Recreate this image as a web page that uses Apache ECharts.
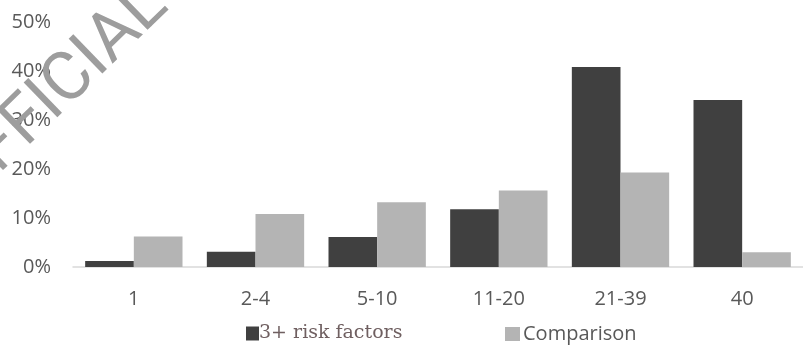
<!DOCTYPE html>
<html>
<head>
<meta charset="utf-8">
<script src="https://cdn.jsdelivr.net/npm/echarts@6/dist/echarts.min.js"></script>
<style>html,body{margin:0;padding:0;background:#fff}#c{width:803px;height:345px}</style>
</head>
<body>
<div id="c"></div>
<script>
const categories = ['1', '2-4', '5-10', '11-20', '21-39', '40'];
const riskFactors = [1.2, 3.1, 6.1, 11.8, 40.8, 34.1];
const comparison = [6.2, 10.8, 13.2, 15.6, 19.3, 3.0];
const seriesNames = ['3+ risk factors', 'Comparison'];
const watermark = 'OFFICIAL';

const chart = echarts.init(document.getElementById('c'), null, {renderer: 'canvas'});
chart.setOption({
  animation: false,
  backgroundColor: '#ffffff',
  grid: {left: 73, right: 0, top: 22, bottom: 78, containLabel: false},
  xAxis: {
    type: 'category',
    data: categories,
    axisLine: {show: true, lineStyle: {color: '#d9d9d9', width: 1.5}},
    axisTick: {show: false},
    axisLabel: {color: '#595959', fontFamily: 'Open Sans', fontSize: 20, margin: 22}
  },
  yAxis: {
    type: 'value',
    min: 0, max: 50, interval: 10,
    axisLine: {show: false},
    axisTick: {show: false},
    splitLine: {show: false},
    axisLabel: {color: '#595959', fontFamily: 'Open Sans', fontSize: 20, margin: 22, formatter: '{value}%'}
  },
  legend: [
    {
      data: [seriesNames[0]], left: 241, top: 319,
      icon: 'rect', itemWidth: 13, itemHeight: 14,
      textStyle: {color: '#6f5f60', fontFamily: 'DejaVu Serif', fontSize: 19, padding: [0, 0, 0, -5]}
    },
    {
      data: [seriesNames[1]], left: 500, top: 319,
      icon: 'rect', itemWidth: 15, itemHeight: 14,
      textStyle: {color: '#595959', fontFamily: 'Open Sans', fontSize: 20, padding: [0, 0, 0, -2]}
    }
  ],
  graphic: [{
    type: 'text', x: 158, y: -4, rotation: 0.77, z: 100,
    style: {text: watermark, font: '400 68px Roboto, "Liberation Sans", sans-serif', fill: '#9d9d9d', align: 'right', verticalAlign: 'middle'}
  }],
  series: [
    {name: seriesNames[0], type: 'bar', data: riskFactors, itemStyle: {color: '#404040'}, barGap: '0%', barCategoryGap: '20%'},
    {name: seriesNames[1], type: 'bar', data: comparison, itemStyle: {color: '#b4b4b4'}, barGap: '0%', barCategoryGap: '20%'}
  ]
});
</script>
</body>
</html>
